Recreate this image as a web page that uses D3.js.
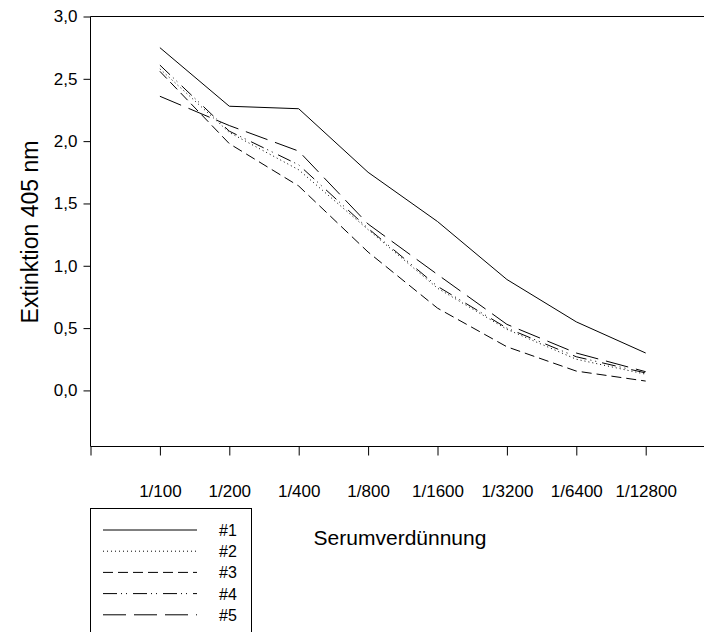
<!DOCTYPE html>
<head>
    <meta charset="utf-8">
    <title>Extinktion 405 nm</title>
</head>
<style>
    body { margin: 0; background: #fff; }
    svg { display: block; font-family: "Liberation Sans", Arial, sans-serif; }
    .axis path, .axis line { stroke: #000; stroke-width: 1px; }
    .axis text { font-size: 17px; fill: #000; font-family: "Liberation Sans", Arial, sans-serif; }
    .series { fill: none; stroke: #000; stroke-width: 1px; }
</style>
<body>
<script src="https://d3js.org/d3.v7.min.js"></script>
<script>
    var width = 704,
        height = 632;

    // dilutions along the x axis
    var dilutions = ["1/100", "1/200", "1/400", "1/800", "1/1600", "1/3200", "1/6400", "1/12800"];
    var yTicks = [0, 0.5, 1, 1.5, 2, 2.5, 3];

    // one array per serum
    var s1 = [2.75, 2.28, 2.26, 1.75, 1.355, 0.89, 0.55, 0.30];
    var s2 = [2.58, 2.07, 1.77, 1.29, 0.82, 0.49, 0.25, 0.13];
    var s3 = [2.56, 1.98, 1.64, 1.11, 0.66, 0.35, 0.155, 0.075];
    var s4 = [2.61, 2.08, 1.81, 1.30, 0.835, 0.50, 0.27, 0.14];
    var s5 = [2.36, 2.125, 1.92, 1.335, 0.93, 0.53, 0.30, 0.15];

    var seriesNames = ["#1", "#2", "#3", "#4", "#5"];
    var seriesData = [s1, s2, s3, s4, s5];
    var dashes = ["none", "1,3", "10,5", "14,4,1,4,1,6", "23,8"];

    var x = d3.scaleLinear()
        .domain([0, 9])
        .range([90.5, 90.5 + 9 * 69.4]);
    var y = d3.scaleLinear()
        .domain([-0.45, 3])
        .range([446.5, 16.5]);

    var svg = d3.select("body").append("svg")
        .attr("width", width)
        .attr("height", height);

    // top frame line
    svg.append("line")
        .attr("x1", x(0)).attr("x2", width)
        .attr("y1", y(3)).attr("y2", y(3))
        .attr("stroke", "#000");

    var xAxis = d3.axisBottom(x)
        .tickValues(d3.range(0, 10))
        .tickSize(9)
        .tickPadding(29)
        .tickFormat(function (d) { return d >= 1 && d <= 8 ? dilutions[d - 1] : ""; });
    svg.append("g")
        .attr("class", "axis")
        .attr("transform", "translate(0," + y(-0.45) + ")")
        .call(xAxis)
        .call(function (g) { g.select(".domain").attr("d", "M" + x(0) + ",0H" + width); });

    var yAxis = d3.axisLeft(y)
        .tickValues(yTicks)
        .tickSize(7)
        .tickPadding(6)
        .tickFormat(function (d) { return d3.format(".1f")(d).replace(".", ","); });
    svg.append("g")
        .attr("class", "axis")
        .attr("transform", "translate(" + x(0) + ",0)")
        .call(yAxis)
        .call(function (g) { g.select(".domain").attr("d", "M0," + y(3) + "V" + y(-0.45)); });

    var line = d3.line()
        .x(function (d, i) { return x(i + 1); })
        .y(function (d) { return y(d); });

    seriesData.forEach(function (s, i) {
        svg.append("path")
            .datum(s)
            .attr("class", "series")
            .attr("stroke-dasharray", dashes[i])
            .attr("d", line);
    });

    // axis titles
    svg.append("text")
        .attr("x", 400).attr("y", 545)
        .attr("text-anchor", "middle")
        .style("font-size", "21px")
        .text("Serumverdünnung");
    svg.append("text")
        .attr("transform", "translate(38,232) rotate(-90)")
        .attr("text-anchor", "middle")
        .style("font-size", "23px")
        .text("Extinktion 405 nm");

    // legend
    var legend = svg.append("g");
    legend.append("rect")
        .attr("x", 90.5).attr("y", 508.5)
        .attr("width", 161).attr("height", 140)
        .attr("fill", "none").attr("stroke", "#000");
    seriesNames.forEach(function (name, i) {
        var ly = 530 + i * 21.2;
        legend.append("line")
            .attr("class", "series")
            .attr("x1", 103).attr("x2", 197)
            .attr("y1", ly).attr("y2", ly)
            .attr("stroke-dasharray", dashes[i]);
        legend.append("text")
            .attr("x", 219).attr("y", ly + 6)
            .style("font-size", "16px")
            .text(name);
    });
</script>
</body>
